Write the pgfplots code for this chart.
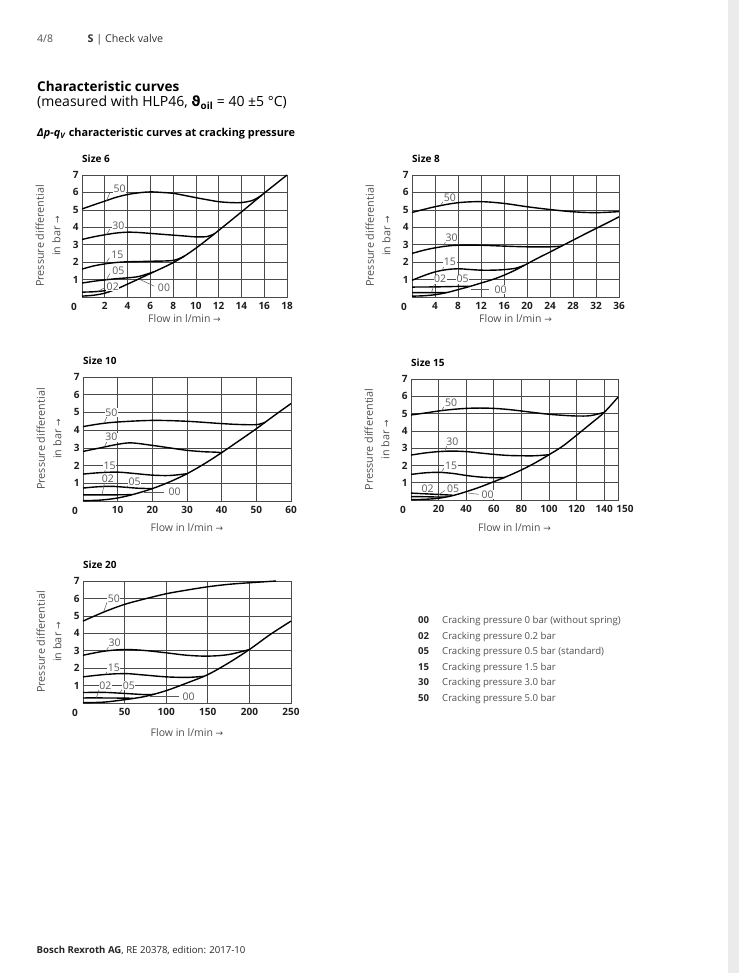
\documentclass[border=0pt]{standalone}
\usepackage{pgfplots}
\pgfplotsset{compat=1.18}
\usepackage{fontspec}
\setmainfont{Open Sans}
\newfontfamily\dejavu{DejaVu Sans}
\definecolor{gridc}{HTML}{4A4A4A}
\definecolor{labc}{HTML}{505050}
\definecolor{tickc}{HTML}{1E1E1E}
\definecolor{curvelab}{HTML}{5A5A5A}
\newcommand{\tk}{\fontsize{10}{11}\selectfont\bfseries}
\tikzset{
  lbl/.style={fill=white, inner sep=0.6pt, text=curvelab, font=\fontsize{10.5}{10.5}\selectfont},
  ld/.style={curvelab, line width=0.5pt},
  zero/.style={font=\tk, text=tickc},
  txt/.style={anchor=base west, inner sep=0pt},
}
\pgfplotsset{
  vv/.style={
    scale only axis, clip=false,
    ymin=0, ymax=7, ytick={1,...,7},
    grid=major, major grid style={gridc, line width=0.65pt},
    axis line style={gridc, line width=0.9pt},
    major tick length=0pt,
    tick label style={font=\tk, text=tickc},
    /pgf/number format/assume math mode=true,
    xticklabel style={yshift=-1.5pt},
    yticklabel style={xshift=0pt},
    xlabel={Flow in l/min {\dejavu\fontsize{9}{10}\selectfont →}},
    xlabel style={at={(axis description cs:0.5,0)}, anchor=center, yshift=-22pt, font=\fontsize{10.5}{12}\selectfont, text=labc},
    ylabel={Pressure differential\\in bar {\dejavu\fontsize{9}{10}\selectfont →}},
    ylabel style={at={([xshift=-18pt]axis description cs:0,0.5)}, anchor=south, align=center, font=\fontsize{10.8}{16.5}\selectfont, text=labc},
    title style={at={(axis description cs:0,1)}, anchor=south west, inner sep=0pt, yshift=6pt, font=\fontsize{10}{10}\selectfont\bfseries},
  },
  cv/.style={black, line width=1.4pt, smooth, tension=0.55, mark=none},
}
\begin{document}
\begin{tikzpicture}
\useasboundingbox (0,0) rectangle (739pt,-973pt);
\fill[white] (0,0) rectangle (739pt,-973pt);
\fill[black!8] (728pt,0) rectangle (739pt,-973pt);
% header
\node[txt, font=\fontsize{10.5}{12}\selectfont, text=labc] at (37pt,-43pt) {4/8};
\node[txt, font=\fontsize{10.7}{12}\selectfont, text=black!80] at (87.5pt,-43pt) {\textbf{S} | Check valve};
\node[txt, font=\fontsize{13.5}{15}\selectfont\bfseries] at (37pt,-91.5pt) {Characteristic curves};
\node[txt, font=\fontsize{14}{15}\selectfont] at (37pt,-107pt) {(measured with HLP46, {\dejavu\bfseries ϑ}\textsubscript{\bfseries oil} = 40 ±5 °C)};
\node[txt, font=\fontsize{10.9}{12}\selectfont\bfseries] at (37pt,-137pt) {\textit{Δp}-\textit{q}\textsubscript{\textit{V}} characteristic curves at cracking pressure};
% legend
\foreach \c/\t [count=\i from 0] in {00/Cracking pressure 0 bar (without spring),02/Cracking pressure 0.2 bar,05/Cracking pressure 0.5 bar (standard),15/Cracking pressure 1.5 bar,30/Cracking pressure 3.0 bar,50/Cracking pressure 5.0 bar}{
  \node[txt, font=\fontsize{9.6}{11}\selectfont\bfseries, text=black!85] at (418pt,{-623.5pt-15.5pt*\i}) {\c};
  \node[txt, font=\fontsize{9.6}{11}\selectfont, text=labc] at (442pt,{-623.5pt-15.5pt*\i}) {\t};
}
% footer
\node[txt, font=\fontsize{9.6}{11}\selectfont, text=black!85] at (36.5pt,-953.5pt) {\textbf{Bosch Rexroth AG}, RE 20378, edition: 2017-10};

% ---------------- Size 6
\begin{axis}[vv, at={(82pt,-297pt)}, anchor=south west, width=205pt, height=122pt,
  xmin=0, xmax=18, xtick={2,4,...,18}, title={Size 6}]
\addplot[cv] coordinates {(0,0.05) (1,0.1) (2,0.22) (3,0.45) (4,0.74) (5,1.04) (6,1.35) (7,1.65) (8,1.97) (9,2.35) (10,2.8) (11,3.3) (12,3.82) (13,4.35) (14,4.88) (15,5.42) (16,5.96) (17,6.48) (18,7.0)};
\addplot[cv] coordinates {(0,0.28) (1,0.3) (2,0.36) (3,0.46)};
\addplot[cv] coordinates {(0,0.8) (1,0.9) (2,0.98) (3,1.05) (4,1.1) (5,1.18) (6.3,1.44)};
\addplot[cv] coordinates {(0,1.6) (1,1.78) (2,1.9) (3,1.98) (4,2.02) (6,2.05) (8,2.1) (9,2.35)};
\addplot[cv] coordinates {(0,3.3) (1,3.45) (2,3.57) (3,3.67) (4,3.72) (5,3.7) (6,3.65) (7,3.6) (8,3.55) (9,3.5) (10,3.45) (11,3.47) (11.6,3.62)};
\addplot[cv] coordinates {(0,5.05) (1,5.28) (2,5.5) (3,5.72) (4,5.88) (5,5.98) (6,6.03) (7,6.0) (8,5.95) (9,5.83) (10,5.7) (11,5.58) (12,5.47) (13,5.42) (14,5.42) (15,5.55) (15.8,5.85)};
\draw[ld] (axis cs:2.45,6.0) -- (axis cs:2.15,5.5);
\draw[ld] (axis cs:2.45,3.9) -- (axis cs:2.15,3.58);
\draw[ld] (axis cs:2.4,2.25) -- (axis cs:2.1,1.92);
\draw[ld] (axis cs:2.45,1.35) -- (axis cs:2.15,0.99);
\draw[ld] (axis cs:1.9,0.5) -- (axis cs:1.4,0.32);
\draw[ld] (axis cs:6.35,0.62) -- (axis cs:5.1,1.0);
\node[lbl] at (axis cs:3.3,6.22) {50};
\node[lbl] at (axis cs:3.2,4.07) {30};
\node[lbl] at (axis cs:3.1,2.42) {15};
\node[lbl] at (axis cs:3.2,1.5) {05};
\node[lbl] at (axis cs:2.7,0.6) {02};
\node[lbl] at (axis cs:7.2,0.55) {00};
\node[zero] at ([xshift=-8pt,yshift=-10pt]axis cs:0,0) {0};
\end{axis}

% ---------------- Size 8
\begin{axis}[vv, at={(412pt,-297pt)}, anchor=south west, width=207pt, height=122pt,
  xmin=0, xmax=36, xtick={4,8,...,36}, title={Size 8}]
\addplot[cv] coordinates {(0,0.05) (2,0.07) (4,0.13) (6,0.25) (8,0.42) (10,0.6) (12,0.8) (14,1.0) (16,1.25) (18,1.55) (20,1.9) (22,2.25) (24,2.58) (26,2.92) (28,3.26) (30,3.6) (32,3.93) (34,4.26) (36,4.6)};
\addplot[cv] coordinates {(0,0.25) (3,0.25) (6,0.26)};
\addplot[cv] coordinates {(0,0.57) (4,0.58) (7,0.6) (10,0.62)};
\addplot[cv] coordinates {(0,0.96) (2,1.22) (4,1.44) (6,1.57) (8,1.62) (10,1.58) (12,1.54) (14,1.54) (16,1.57) (18,1.65) (19.5,1.82)};
\addplot[cv] coordinates {(0,2.5) (2,2.68) (4,2.82) (6,2.92) (8,2.97) (12,2.97) (16,2.92) (20,2.88) (24,2.88) (26,2.92)};
\addplot[cv] coordinates {(0,4.85) (4,5.18) (8,5.41) (12,5.47) (16,5.37) (20,5.18) (24,5.02) (28,4.89) (32,4.84) (36,4.9)};
\draw[ld] (axis cs:5.6,5.55) -- (axis cs:5.0,5.28);
\draw[ld] (axis cs:5.9,3.22) -- (axis cs:5.5,2.93);
\draw[ld] (axis cs:5.7,1.85) -- (axis cs:5.2,1.52);
\draw[ld] (axis cs:4.0,0.85) -- (axis cs:3.4,0.27);
\draw[ld] (axis cs:10.2,0.45) -- (axis cs:13.4,0.45);
\node[lbl] at (axis cs:6.6,5.72) {50};
\node[lbl] at (axis cs:6.9,3.42) {30};
\node[lbl] at (axis cs:6.6,2.0) {15};
\node[lbl] at (axis cs:4.9,1.02) {02};
\node[lbl] at (axis cs:8.8,1.02) {05};
\node[lbl] at (axis cs:15.4,0.42) {00};
\node[zero] at ([xshift=-8pt,yshift=-10pt]axis cs:0,0) {0};
\end{axis}

% ---------------- Size 10
\begin{axis}[vv, at={(83pt,-501pt)}, anchor=south west, width=208pt, height=124pt,
  xmin=0, xmax=60, xtick={10,20,...,60}, title={Size 10}, xlabel style={yshift=-5pt}]
\addplot[cv] coordinates {(0,0.02) (5,0.05) (10,0.17) (15,0.4) (20,0.7) (25,1.08) (30,1.54) (35,2.1) (40,2.73) (45,3.4) (50,4.08) (55,4.8) (60,5.5)};
\addplot[cv] coordinates {(0,0.35) (5,0.35) (10,0.35) (14,0.36)};
\addplot[cv] coordinates {(0,0.73) (4,0.8) (8,0.83) (12,0.78) (16,0.72) (20,0.7)};
\addplot[cv] coordinates {(0,1.52) (5,1.6) (10,1.63) (15,1.55) (20,1.46) (25,1.44) (30,1.54)};
\addplot[cv] coordinates {(0,2.8) (5,3.0) (10,3.2) (14,3.28) (20,3.14) (25,3.0) (30,2.86) (35,2.78) (38,2.76) (40,2.73)};
\addplot[cv] coordinates {(0,4.2) (5,4.36) (10,4.46) (20,4.55) (30,4.5) (40,4.37) (45,4.32) (50,4.31) (52.5,4.44)};
\draw[ld] (axis cs:7.0,4.8) -- (axis cs:6.2,4.44);
\draw[ld] (axis cs:7.0,3.4) -- (axis cs:6.3,3.1);
\draw[ld] (axis cs:6.6,1.85) -- (axis cs:6.2,1.62);
\draw[ld] (axis cs:6.2,1.05) -- (axis cs:5.5,0.35);
\draw[ld] (axis cs:13.5,0.95) -- (axis cs:12.5,0.77);
\draw[ld] (axis cs:17.5,0.5) -- (axis cs:23.5,0.5);
\node[lbl] at (axis cs:8.2,5.0) {50};
\node[lbl] at (axis cs:8.2,3.6) {30};
\node[lbl] at (axis cs:7.7,2.0) {15};
\node[lbl] at (axis cs:7.2,1.26) {02};
\node[lbl] at (axis cs:14.9,1.11) {05};
\node[lbl] at (axis cs:26.4,0.51) {00};
\node[zero] at ([xshift=-8pt,yshift=-10pt]axis cs:0,0) {0};
\end{axis}

% ---------------- Size 15
\begin{axis}[vv, at={(411pt,-500pt)}, anchor=south west, width=207pt, height=121pt,
  xmin=0, xmax=150, xtick={20,40,...,140}, extra x ticks={150},
  extra x tick style={xticklabel style={xshift=7pt}}, title={Size 15}, xlabel style={yshift=-6pt}]
\addplot[cv] coordinates {(0,0.02) (10,0.04) (20,0.1) (30,0.25) (40,0.48) (50,0.75) (60,1.06) (70,1.38) (80,1.74) (90,2.15) (100,2.62) (110,3.12) (120,3.75) (130,4.4) (140,5.07) (150,5.95)};
\addplot[cv] coordinates {(0,0.2) (10,0.19) (20,0.17) (25,0.17)};
\addplot[cv] coordinates {(0,0.4) (10,0.36) (20,0.32) (30,0.28)};
\addplot[cv] coordinates {(0,1.48) (10,1.57) (20,1.6) (30,1.54) (40,1.42) (50,1.33) (60,1.29) (68,1.3)};
\addplot[cv] coordinates {(0,2.6) (10,2.72) (20,2.8) (30,2.83) (40,2.8) (50,2.72) (60,2.64) (70,2.58) (80,2.56) (90,2.56) (100,2.62)};
\addplot[cv] coordinates {(0,4.92) (10,5.03) (20,5.15) (30,5.24) (40,5.3) (50,5.32) (60,5.3) (70,5.24) (80,5.15) (90,5.05) (100,4.96) (110,4.9) (120,4.86) (130,4.88) (140,5.07)};
\draw[ld] (axis cs:24,5.4) -- (axis cs:22,5.17);
\draw[ld] (axis cs:26,3.15) -- (axis cs:24.5,2.82);
\draw[ld] (axis cs:24,1.85) -- (axis cs:22,1.6);
\draw[ld] (axis cs:24.5,0.55) -- (axis cs:20,0.3);
\draw[ld] (axis cs:41.5,0.4) -- (axis cs:49,0.33);
\node[lbl] at (axis cs:29,5.6) {50};
\node[lbl] at (axis cs:30,3.38) {30};
\node[lbl] at (axis cs:29,2.0) {15};
\node[lbl] at (axis cs:12,0.67) {02};
\node[lbl] at (axis cs:30.5,0.67) {05};
\node[lbl] at (axis cs:55.5,0.3) {00};
\node[zero] at ([xshift=-8pt,yshift=-10pt]axis cs:0,0) {0};
\end{axis}

% ---------------- Size 20
\begin{axis}[vv, at={(83pt,-703pt)}, anchor=south west, width=208pt, height=122pt,
  xmin=0, xmax=250, xtick={50,100,...,250}, title={Size 20}, xlabel style={yshift=-8pt}]
\addplot[cv] coordinates {(0,0.02) (25,0.05) (50,0.19) (75,0.38) (100,0.71) (125,1.15) (150,1.63) (175,2.3) (200,3.07) (225,3.93) (250,4.7)};
\addplot[cv] coordinates {(0,0.29) (25,0.29) (50,0.28) (60,0.27)};
\addplot[cv] coordinates {(0,0.6) (25,0.61) (50,0.55) (75,0.48) (85,0.5)};
\addplot[cv] coordinates {(0,1.5) (25,1.63) (50,1.69) (75,1.6) (100,1.5) (125,1.47) (145,1.53)};
\addplot[cv] coordinates {(0,2.74) (25,2.97) (50,3.07) (75,3.01) (100,2.88) (125,2.74) (150,2.69) (175,2.78) (200,3.07)};
\addplot[cv] coordinates {(0,4.7) (25,5.22) (50,5.66) (75,5.98) (100,6.27) (125,6.48) (150,6.67) (175,6.81) (200,6.9) (232,7.0)};
\draw[ld] (axis cs:29,5.8) -- (axis cs:25,5.25);
\draw[ld] (axis cs:31,3.25) -- (axis cs:28,3.0);
\draw[ld] (axis cs:30,1.85) -- (axis cs:27,1.65);
\draw[ld] (axis cs:20,0.85) -- (axis cs:16,0.3);
\draw[ld] (axis cs:48,0.85) -- (axis cs:44,0.56);
\draw[ld] (axis cs:80,0.38) -- (axis cs:115,0.38);
\node[lbl] at (axis cs:37,6.0) {50};
\node[lbl] at (axis cs:38,3.45) {30};
\node[lbl] at (axis cs:37,2.0) {15};
\node[lbl] at (axis cs:27,1.0) {02};
\node[lbl] at (axis cs:55,1.0) {05};
\node[lbl] at (axis cs:127,0.35) {00};
\node[zero] at ([xshift=-8pt,yshift=-10pt]axis cs:0,0) {0};
\end{axis}
\end{tikzpicture}
\end{document}
